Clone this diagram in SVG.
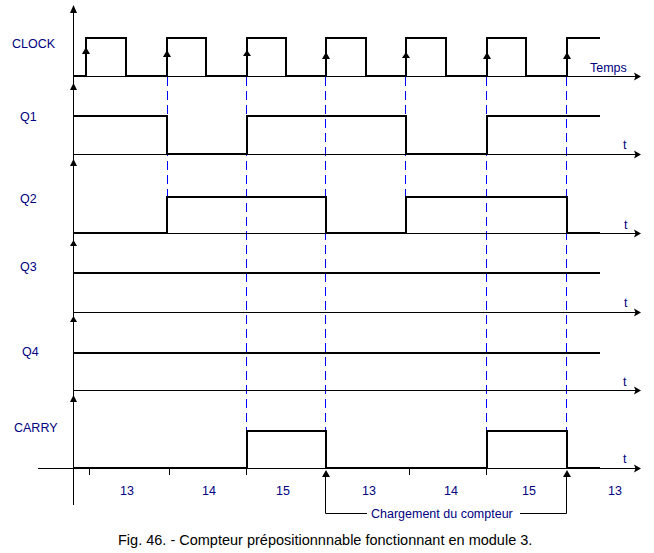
<svg xmlns="http://www.w3.org/2000/svg" width="654" height="553" viewBox="0 0 654 553">
<style>
.lbl{font-family:"Liberation Sans",Arial,sans-serif;font-size:12.5px;fill:#000080}
.cap{font-family:"Liberation Sans",Arial,sans-serif;font-size:14.5px;fill:#000}
.ax{stroke:#000;stroke-width:1;fill:none}
.sig{stroke:#000;stroke-width:2;fill:none;stroke-linejoin:miter}
.dash{stroke:#0000FF;stroke-width:1;stroke-dasharray:9 5;fill:none}
.ah{fill:#000}
</style>
<rect width="654" height="553" fill="#fff"/>
<g id="connectors">
<line class="dash" x1="167.5" y1="77" x2="167.5" y2="197"/>
<line class="dash" x1="246.5" y1="77" x2="246.5" y2="431"/>
<line class="dash" x1="325.5" y1="77" x2="325.5" y2="431"/>
<line class="dash" x1="405.5" y1="77" x2="405.5" y2="197"/>
<line class="dash" x1="486.5" y1="77" x2="486.5" y2="431"/>
<line class="dash" x1="566.5" y1="77" x2="566.5" y2="431"/>
</g>
<g id="axes">
<line class="ax" x1="73.5" y1="6" x2="73.5" y2="505"/>
<polygon class="ah" points="73.5,5 70,13 77,13"/>
<polygon class="ah" points="73.5,83 70,90 77,90"/>
<polygon class="ah" points="73.5,159 70,166 77,166"/>
<polygon class="ah" points="73.5,240 70,246 77,246"/>
<polygon class="ah" points="73.5,316 70,322 77,322"/>
<polygon class="ah" points="73.5,395 70,402 77,402"/>
<line class="ax" x1="73" y1="76.5" x2="636" y2="76.5"/>
<line class="ax" x1="73" y1="154.5" x2="636" y2="154.5"/>
<line class="ax" x1="73" y1="233.5" x2="636" y2="233.5"/>
<line class="ax" x1="73" y1="312.5" x2="636" y2="312.5"/>
<line class="ax" x1="73" y1="390.5" x2="636" y2="390.5"/>
<line class="ax" x1="38" y1="468.5" x2="636" y2="468.5"/>
<polygon class="ah" points="641,76.5 634,72.5 635.5,76.5 634,80.5"/>
<polygon class="ah" points="641,154.5 634,150.5 635.5,154.5 634,158.5"/>
<polygon class="ah" points="641,233.5 634,229.5 635.5,233.5 634,237.5"/>
<polygon class="ah" points="641,312.5 634,308.5 635.5,312.5 634,316.5"/>
<polygon class="ah" points="641,390.5 634,386.5 635.5,390.5 634,394.5"/>
<polygon class="ah" points="641,468.5 634,464.5 635.5,468.5 634,472.5"/>
<text class="lbl" x="590" y="72">Temps</text>
<text class="lbl" x="623" y="149">t</text>
<text class="lbl" x="624" y="229">t</text>
<text class="lbl" x="624" y="307">t</text>
<text class="lbl" x="623" y="386">t</text>
<text class="lbl" x="623" y="463">t</text>
<g class="ax">
<line x1="89.5" y1="468" x2="89.5" y2="475"/>
<line x1="169.5" y1="468" x2="169.5" y2="475"/>
<line x1="246.5" y1="468" x2="246.5" y2="475"/>
<line x1="409.5" y1="468" x2="409.5" y2="475"/>
<line x1="486.5" y1="468" x2="486.5" y2="475"/>
</g>
</g>
<g id="clock">
<text class="lbl" x="12" y="48">CLOCK</text>
<path class="sig" d="M73,76 H86 V38 H126 V76 H167 V38 H206 V76 H247 V38 H286 V76 H326 V38 H366 V76 H406 V38 H446 V76 H487 V38 H526 V76 H567 V38 H600"/>
<polygon class="ah" points="86,47 82,54 90,54"/>
<polygon class="ah" points="167,50 163,57 171,57"/>
<polygon class="ah" points="247,50 243,56 251,56"/>
<polygon class="ah" points="326,52 322,59 330,59"/>
<polygon class="ah" points="406,52 402,58 410,58"/>
<polygon class="ah" points="487,52 483,59 491,59"/>
<polygon class="ah" points="567,52 563,59 571,59"/>
</g>
<g id="q1">
<text class="lbl" x="20" y="120.5">Q1</text>
<path class="sig" d="M73,116 H167 V154 H247 V116 H406 V154 H487 V116 H600"/>
</g>
<g id="q2">
<text class="lbl" x="20" y="202.5">Q2</text>
<path class="sig" d="M73,233 H167 V197 H326 V233 H406 V197 H567 V233 H600"/>
</g>
<g id="q3">
<text class="lbl" x="20" y="270.5">Q3</text>
<path class="sig" d="M73,273 H600"/>
</g>
<g id="q4">
<text class="lbl" x="22" y="355.5">Q4</text>
<path class="sig" d="M73,353 H600"/>
</g>
<g id="carry">
<text class="lbl" x="14" y="432">CARRY</text>
<path class="sig" d="M73,468 H247 V431 H326 V468 H487 V431 H567 V468 H600"/>
</g>
<g id="counts">
<text class="lbl" x="127" y="495" text-anchor="middle">13</text>
<text class="lbl" x="209" y="495" text-anchor="middle">14</text>
<text class="lbl" x="283" y="495" text-anchor="middle">15</text>
<text class="lbl" x="369" y="495" text-anchor="middle">13</text>
<text class="lbl" x="451" y="495" text-anchor="middle">14</text>
<text class="lbl" x="529" y="495" text-anchor="middle">15</text>
<text class="lbl" x="615" y="495" text-anchor="middle">13</text>
</g>
<g id="chargement">
<polygon class="ah" points="326,470 322,477 330,477"/>
<polygon class="ah" points="567,470 563,477 571,477"/>
<path class="ax" d="M325.5,477 V513.5 H367"/>
<path class="ax" d="M520,513.5 H566.5 V477"/>
<text class="lbl" x="371" y="517.5">Chargement du compteur</text>
</g>
<text class="cap" x="118" y="544.5">Fig. 46. - Compteur prépositionnnable fonctionnant en module 3.</text>
</svg>
